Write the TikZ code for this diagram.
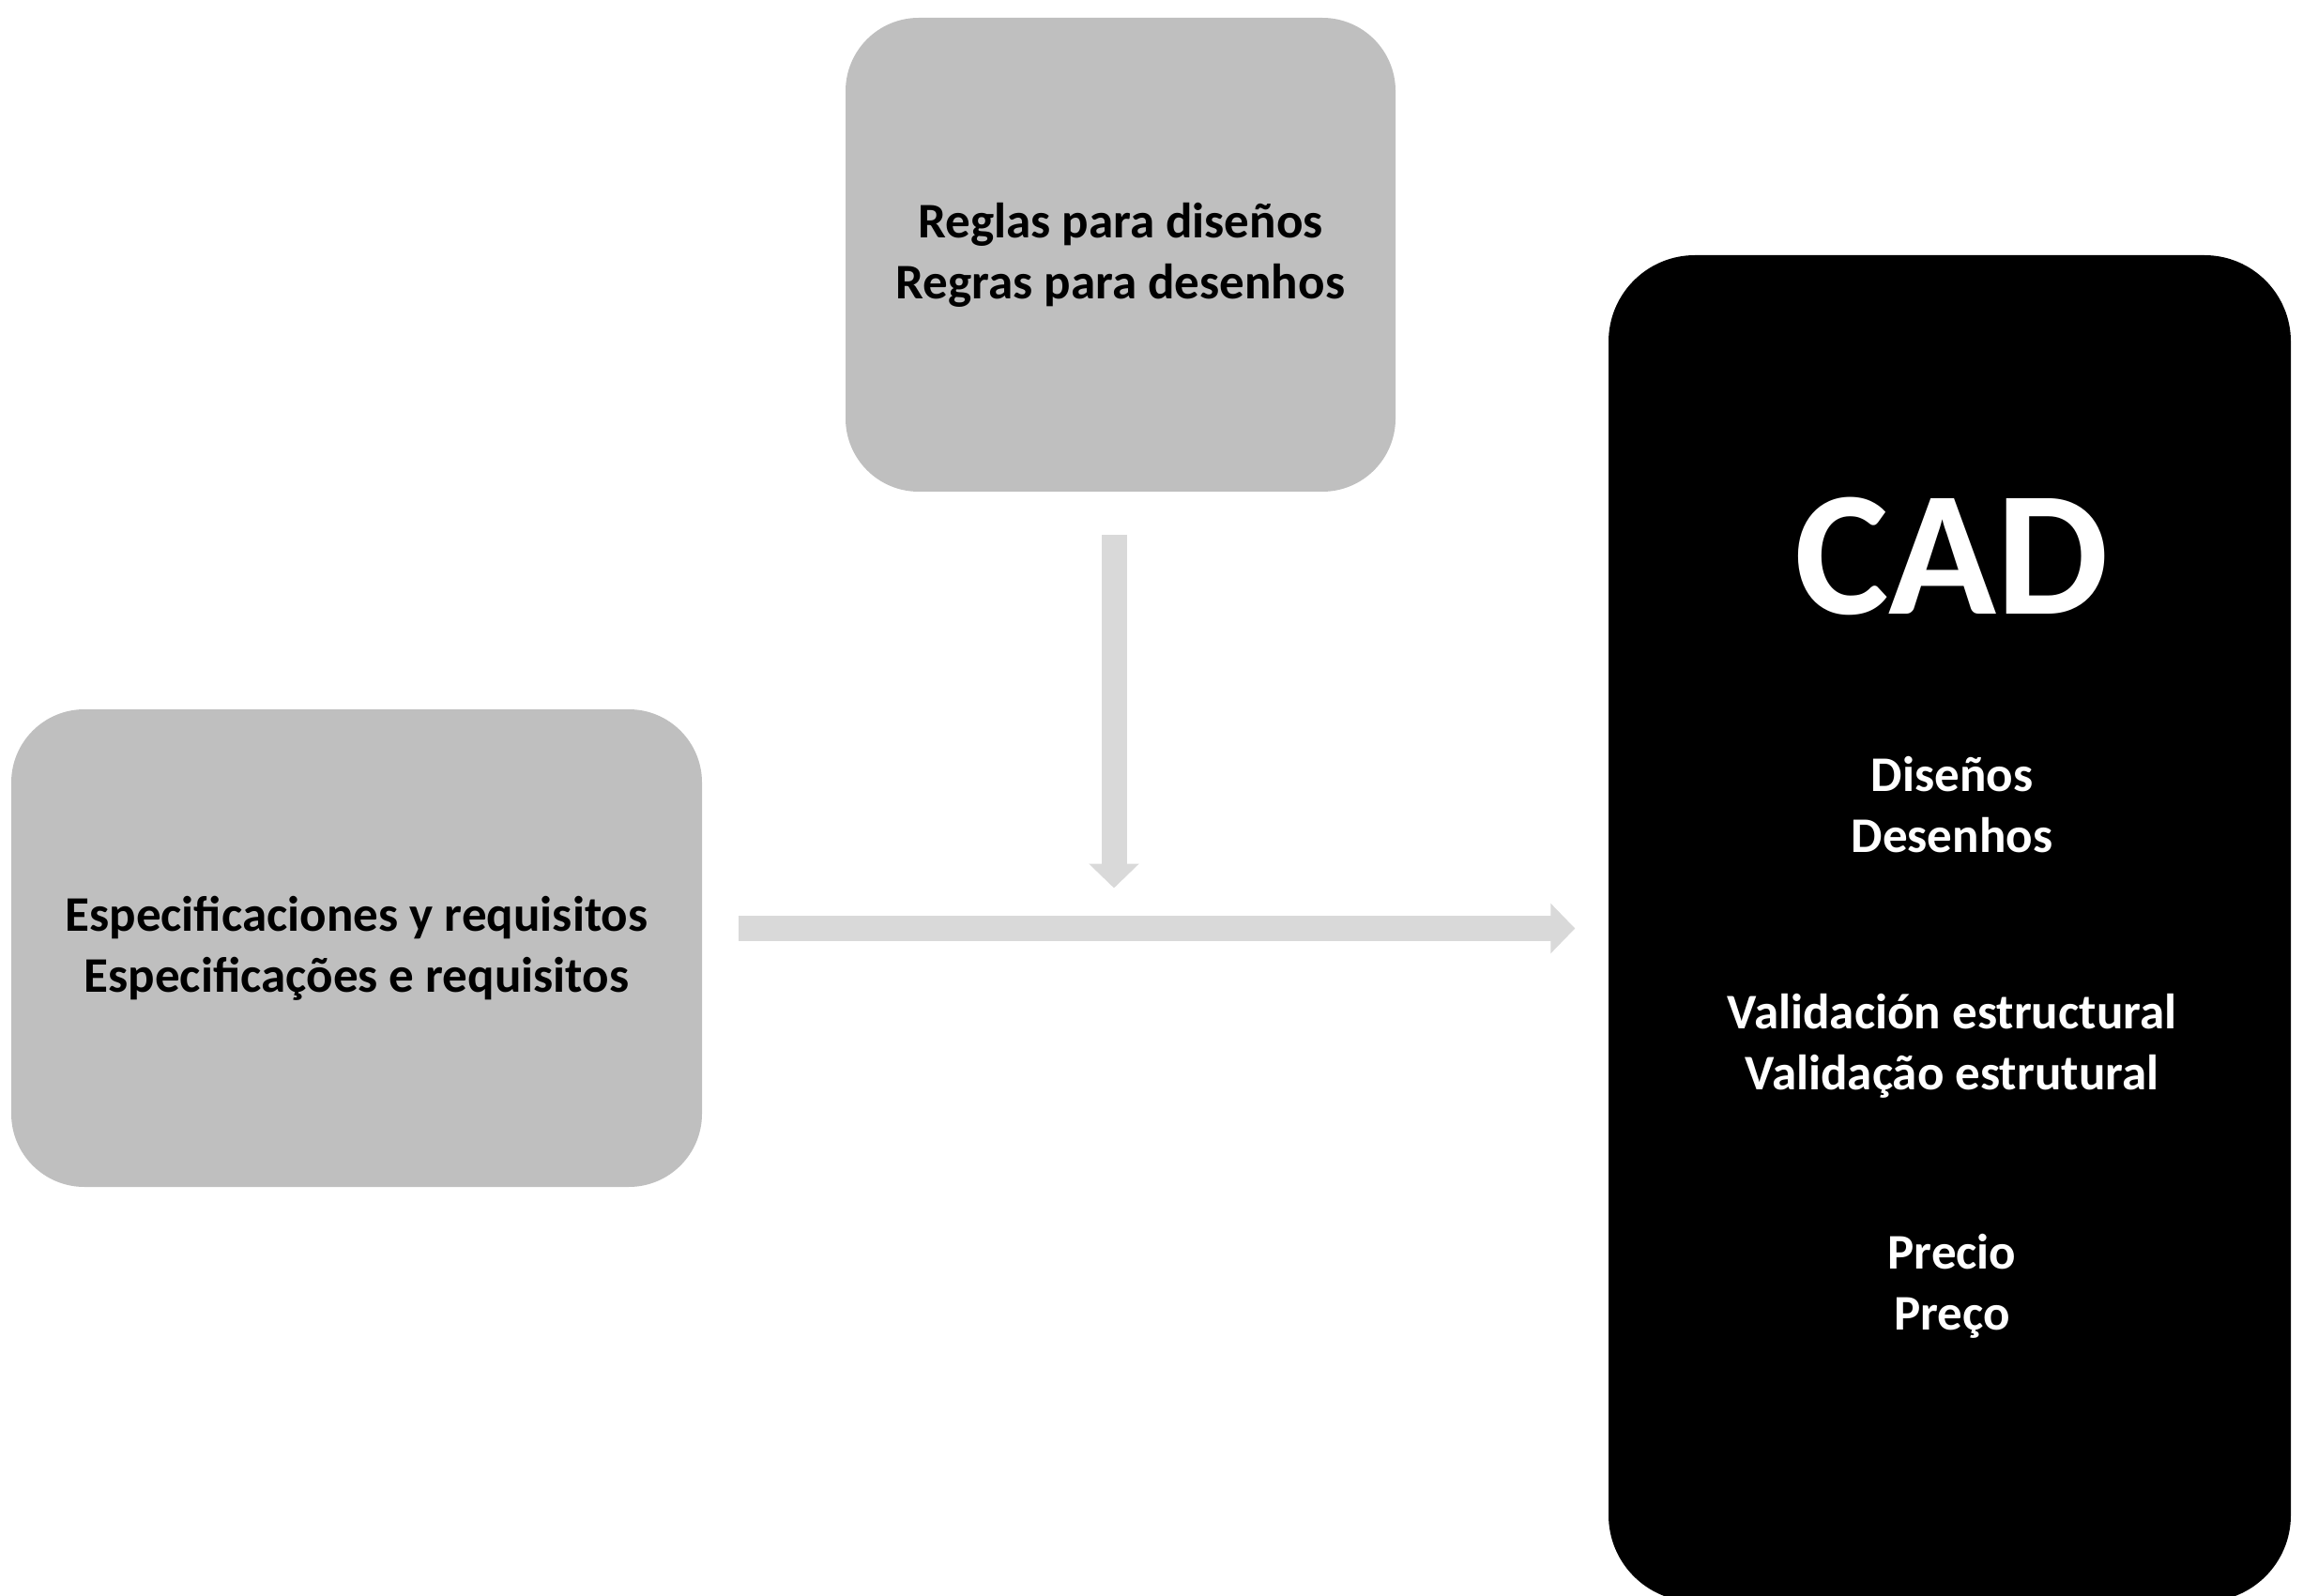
\documentclass[tikz,border=0pt]{standalone}
\usepackage{fontspec}
\setmainfont{Carlito}
\usetikzlibrary{arrows.meta}

\definecolor{boxgray}{RGB}{191,191,191}
\definecolor{arrowgray}{RGB}{217,217,217}

\tikzset{
    graybox/.style={fill=boxgray, rounded corners=0.78cm, inner sep=0pt, align=center,
        font=\fontsize{15.1}{18.5}\selectfont\bfseries},
    cadbox/.style={fill=black, rounded corners=0.92cm, inner sep=0pt},
    cadtext/.style={text=white, align=center, font=\fontsize{15.1}{18.5}\selectfont\bfseries},
    flow/.style={arrowgray, line width=0.27cm, -{Triangle[width=0.52cm, length=0.26cm]}}
}

\begin{document}
\begin{tikzpicture}
    \useasboundingbox (0,0) rectangle (24.54,-17.01);

    % Boxes
    \node[graybox, minimum width=5.86cm, minimum height=5.05cm] (rules) at (11.94,-2.715)
        {\rule{0pt}{0.1cm}Reglas para diseños\\Regras para desenhos};
    \node[graybox, minimum width=7.36cm, minimum height=5.09cm] (specs) at (3.80,-10.105)
        {\rule{0pt}{0.1cm}Especificaciones y requisitos\\Especificações e requisitos};
    \node[cadbox, minimum width=7.27cm, minimum height=14.35cm] (cad) at (20.775,-9.895) {};

    % Contents of the CAD box
    \node[text=white, font=\fontsize{54}{60}\selectfont\bfseries] (cadtitle) at (20.8,-5.93) {CAD};
    \node[cadtext] (designs) at (20.8,-8.58) {Diseños\\Desenhos};
    \node[cadtext] (validation) at (20.8,-11.15) {Validación estructural\\Validação estrutural};
    \node[cadtext] (price) at (20.8,-13.71) {Precio\\Preço};

    % Arrows
    \coordinate (drop) at ([xshift=-0.07cm]rules.south);
    \coordinate (merge) at (drop |- cad.west);
    \draw[flow, shorten <=0.38cm, shorten >=0.35cm] (cad.west -| specs.east) -- (cad.west);
    \draw[flow, shorten <=0.45cm, shorten >=0.43cm] (drop) -- (merge);
\end{tikzpicture}
\end{document}
